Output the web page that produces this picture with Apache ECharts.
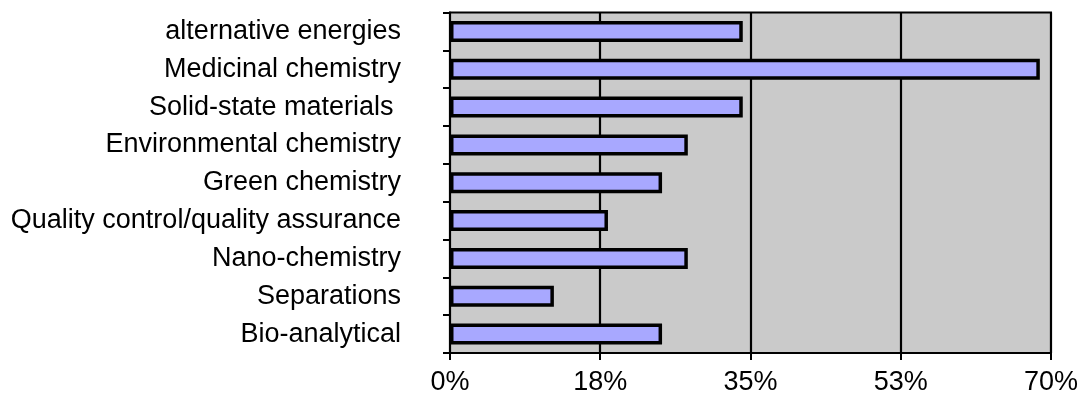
<!DOCTYPE html>
<html>
<head>
<meta charset="utf-8">
<script src="https://cdn.jsdelivr.net/npm/echarts@6/dist/echarts.min.js"></script>
<style>
  html, body { margin: 0; padding: 0; background: #fff; }
  #chart { width: 1081px; height: 410px; }
</style>
</head>
<body>
<div id="chart"></div>
<script>
// Research areas, top to bottom
const categories = [
  'alternative energies',
  'Medicinal chemistry',
  'Solid-state materials ',
  'Environmental chemistry',
  'Green chemistry',
  'Quality control/quality assurance',
  'Nano-chemistry',
  'Separations',
  'Bio-analytical'
];
// Share of respondents (%)
const shares = [34.1, 68.7, 34.1, 27.7, 24.7, 18.4, 27.7, 12.1, 24.7];
// Value axis labels (axis runs 0-70 in steps of 17.5)
const tickLabels = ['0%', '18%', '35%', '53%', '70%'];

const FONT = '"Liberation Sans", Helvetica, Arial, sans-serif';

const chart = echarts.init(document.getElementById('chart'), null, { renderer: 'canvas' });
chart.setOption({
  animation: false,
  backgroundColor: '#ffffff',
  grid: {
    left: 450, right: 30, top: 12.5, bottom: 57,
    containLabel: false,
    show: true,
    backgroundColor: '#cacaca',
    borderColor: '#000000',
    borderWidth: 2
  },
  xAxis: {
    type: 'value',
    min: 0, max: 70, interval: 17.5,
    axisLine: { show: true, lineStyle: { color: '#000', width: 2 } },
    axisTick: { show: true, length: 7, lineStyle: { color: '#000', width: 2 } },
    splitLine: { show: true, lineStyle: { color: '#000', width: 2.2 } },
    axisLabel: {
      color: '#000', fontFamily: FONT, fontSize: 27, margin: 16,
      formatter: (v, i) => tickLabels[i]
    }
  },
  yAxis: {
    type: 'category',
    data: categories,
    inverse: true,
    axisLine: { show: true, lineStyle: { color: '#000', width: 2 } },
    axisTick: { show: true, length: 7, alignWithLabel: false, lineStyle: { color: '#000', width: 2 } },
    splitLine: { show: false },
    axisLabel: { color: '#000', fontFamily: FONT, fontSize: 27, margin: 49 }
  },
  series: [{
    type: 'bar',
    data: shares,
    barWidth: 21,
    itemStyle: { color: '#a8a8ff', borderColor: '#000', borderWidth: 3.5 }
  }]
});
</script>
</body>
</html>
